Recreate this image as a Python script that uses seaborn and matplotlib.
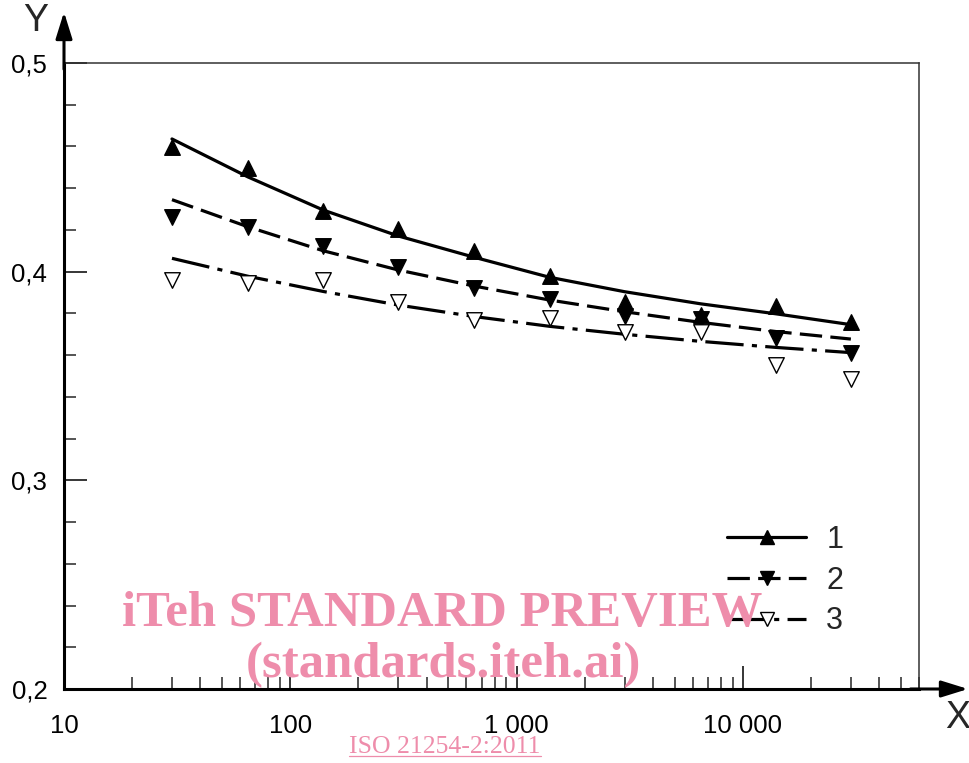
import matplotlib
matplotlib.use("Agg")
import matplotlib.pyplot as plt
import seaborn as sns
import numpy as np
import pandas as pd
from matplotlib.lines import Line2D
from matplotlib.ticker import FixedLocator, NullFormatter, LogLocator

# ---- data ----
x_points = [30, 65, 140, 300, 650, 1400, 3000, 6500, 14000, 30000]
s1_points = [0.4597, 0.4497, 0.4291, 0.4204, 0.4097, 0.3979, 0.3856, 0.3790, 0.3836, 0.3760]
s2_points = [0.4262, 0.4212, 0.4123, 0.4020, 0.3922, 0.3869, 0.3789, 0.3775, 0.3682, 0.3608]
s3_points = [0.3958, 0.3948, 0.3962, 0.3857, 0.3766, 0.3780, 0.3713, 0.3713, 0.3555, 0.3486]

curve1 = [0.4636, 0.4454, 0.4295, 0.4171, 0.4069, 0.3973, 0.3904, 0.3846, 0.3798, 0.3746]
curve2 = [0.4345, 0.4215, 0.4100, 0.4008, 0.3931, 0.3864, 0.3808, 0.3757, 0.3713, 0.3677]
curve3 = [0.4064, 0.3978, 0.3905, 0.3840, 0.3785, 0.3738, 0.3700, 0.3666, 0.3637, 0.3612]

series_labels = ["1", "2", "3"]
x_ticks = [10, 100, 1000, 10000]
x_tick_labels = ["10", "100", "1 000", "10 000"]
y_ticks = [0.2, 0.3, 0.4, 0.5]
y_tick_labels = ["0,2", "0,3", "0,4", "0,5"]
x_label = "X"
y_label = "Y"
watermark1 = "iTeh STANDARD PREVIEW"
watermark2 = "(standards.iteh.ai)"
watermark3 = "ISO 21254-2:2011"

sns.set_style("white")
plt.rcParams["font.family"] = ["Liberation Sans", "DejaVu Sans"]

W, H = 969, 763
fig = plt.figure(figsize=(W / 100, H / 100), dpi=100)
ax = fig.add_axes([64 / W, 1 - 689 / H, 855 / W, 626 / H])

lw = 2.3
styles = [
    dict(marker="^", face="black", dashes=None),
    dict(marker="v", face="black", dashes=(7, 2.6)),
    dict(marker="v", face="white", dashes=(12, 2.6, 1.6, 2.6)),
]
curves = [curve1, curve2, curve3]
points = [s1_points, s2_points, s3_points]

for c, p, st in zip(curves, points, styles):
    df_c = pd.DataFrame({"x": x_points, "y": c})
    sns.lineplot(data=df_c, x="x", y="y", ax=ax, color="black", linewidth=lw, legend=False)
    ln = ax.lines[-1]
    if st["dashes"] is not None:
        ln.set_dashes(st["dashes"])
    df_p = pd.DataFrame({"x": x_points, "y": p})
    sns.scatterplot(data=df_p, x="x", y="y", ax=ax, marker=st["marker"], s=125,
                    color=st["face"], edgecolor="black", linewidth=1.0, legend=False, zorder=3)

ax.set_xscale("log")
ax.set_xlim(10, 60000)
ax.set_ylim(0.2, 0.5)
ax.set_xlabel("")
ax.set_ylabel("")

ax.xaxis.set_major_locator(FixedLocator(x_ticks))
ax.set_xticklabels(x_tick_labels)
ax.xaxis.set_minor_locator(LogLocator(base=10, subs=np.arange(2, 10)))
ax.xaxis.set_minor_formatter(NullFormatter())
ax.yaxis.set_major_locator(FixedLocator(y_ticks))
ax.set_yticklabels(y_tick_labels)
ax.yaxis.set_minor_locator(FixedLocator(np.arange(0.2, 0.5001, 0.02)))

ax.tick_params(which="major", direction="in", length=16.5, width=1.1, labelsize=18.5,
               colors="black")
ax.tick_params(which="minor", direction="in", length=8.6, width=1.1)
ax.tick_params(axis="x", which="both", bottom=True, top=False, pad=18)
ax.tick_params(axis="y", which="both", left=True, right=False, pad=12)

for side in ["left", "bottom"]:
    ax.spines[side].set_linewidth(2.2)
    ax.spines[side].set_color("black")
for side in ["top", "right"]:
    ax.spines[side].set_linewidth(1.1)
    ax.spines[side].set_color("#333333")
    ax.spines[side].set_visible(True)

# axis arrows
arrow_kw = dict(arrowstyle="-|>,head_length=0.9,head_width=0.28", lw=2.2, color="black",
                shrinkA=0, shrinkB=0, mutation_scale=18)
ax.annotate("", xy=(0, (689 - 12) / 626), xytext=(0, 0.99), xycoords="axes fraction",
            arrowprops=arrow_kw, annotation_clip=False)
ax.annotate("", xy=((968 - 64) / 855, 0), xytext=(0.99, 0), xycoords="axes fraction",
            arrowprops=arrow_kw, annotation_clip=False)

fig.text(36 / W, 1 - 21 / H, y_label, fontsize=27, ha="center", va="center")
fig.text(958 / W, 1 - 718 / H, x_label, fontsize=27, ha="center", va="center")

# legend
handles = []
for st in styles:
    h = Line2D([], [], color="black", lw=lw, marker=st["marker"], markersize=10,
               markerfacecolor=st["face"], markeredgecolor="black", markeredgewidth=1.0)
    if st["dashes"] is not None:
        h.set_dashes(st["dashes"])
    handles.append(h)
leg = ax.legend(handles, series_labels, loc="upper left",
                bbox_to_anchor=((727 - 64) / 855, (689 - 525) / 626),
                frameon=False, fontsize=22, handlelength=2.6, handletextpad=0.65,
                labelspacing=0.35, borderpad=0, borderaxespad=0)

# watermark
wm_color = "#EE8DAB"
fig.text(442 / W, 1 - 614 / H, watermark1, fontsize=36.5, fontweight="bold",
         family="Liberation Serif", color=wm_color, ha="center", va="center", zorder=10)
fig.text(443 / W, 1 - 665 / H, watermark2, fontsize=36.5, fontweight="bold",
         family="Liberation Serif", color=wm_color, ha="center", va="center", zorder=10)
t3 = fig.text(445 / W, 1 - 747 / H, watermark3, fontsize=18.5,
              family="Liberation Serif", color=wm_color, ha="center", va="center", zorder=10)
fig.canvas.draw()
bb = t3.get_window_extent()
fig.add_artist(Line2D([bb.x0 / W, bb.x1 / W], [(bb.y0 + 2) / H, (bb.y0 + 2) / H],
                      color=wm_color, lw=0.9))

fig.savefig("out.png", dpi=100)
